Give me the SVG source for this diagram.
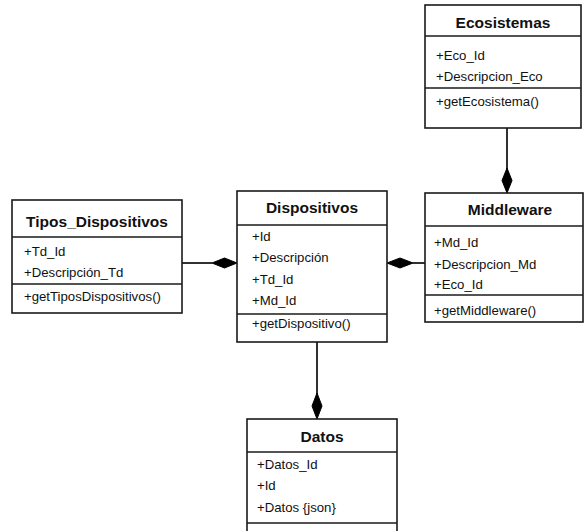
<svg xmlns="http://www.w3.org/2000/svg" width="584" height="531" viewBox="0 0 584 531">
<defs>
<style>
.box{fill:#fff;stroke:#1a1a1a;stroke-width:1.6}
.sep{stroke:#1a1a1a;stroke-width:1.6}
.title{font-family:"Liberation Sans",Arial,sans-serif;font-weight:bold;font-size:15.5px;fill:#111;text-anchor:middle}
.attr{font-family:"Liberation Sans",Arial,sans-serif;font-size:13.2px;fill:#111}
.conn{stroke:#1a1a1a;stroke-width:1.8;fill:none}
.dia{fill:#000;stroke:#000;stroke-width:1}
</style>
</defs>
<rect width="584" height="531" fill="#fff"/>
<g id="connectors">
<line class="conn" x1="507" y1="128" x2="507" y2="170"/>
<polygon class="dia" points="507,168 512,180.5 507,193 502,180.5"/>
<line class="conn" x1="182" y1="263" x2="212" y2="263"/>
<polygon class="dia" points="212,263 224.5,258 237,263 224.5,268"/>
<line class="conn" x1="413" y1="263" x2="425" y2="263"/>
<polygon class="dia" points="387,263 400,258 413,263 400,268"/>
<line class="conn" x1="317" y1="342" x2="317" y2="395"/>
<polygon class="dia" points="317,393 322,406 317,419 312,406"/>
</g>
<g id="ecosistemas">
<rect class="box" x="425" y="5" width="156" height="123"/>
<line class="sep" x1="425" y1="36" x2="581" y2="36"/>
<line class="sep" x1="425" y1="88" x2="581" y2="88"/>
<text class="title" x="503" y="28">Ecosistemas</text>
<text class="attr" x="436" y="60">+Eco_Id</text>
<text class="attr" x="436" y="81">+Descripcion_Eco</text>
<text class="attr" x="436" y="106">+getEcosistema()</text>
</g>
<g id="middleware">
<rect class="box" x="425" y="193" width="158" height="129"/>
<line class="sep" x1="425" y1="226" x2="583" y2="226"/>
<line class="sep" x1="425" y1="295" x2="583" y2="295"/>
<text class="title" x="510" y="215">Middleware</text>
<text class="attr" x="434" y="247">+Md_Id</text>
<text class="attr" x="434" y="269">+Descripcion_Md</text>
<text class="attr" x="434" y="289">+Eco_Id</text>
<text class="attr" x="434" y="315">+getMiddleware()</text>
</g>
<g id="dispositivos">
<rect class="box" x="237" y="191" width="150" height="151"/>
<line class="sep" x1="237" y1="225" x2="387" y2="225"/>
<line class="sep" x1="237" y1="314" x2="387" y2="314"/>
<text class="title" x="312" y="213">Dispositivos</text>
<text class="attr" x="252" y="241">+Id</text>
<text class="attr" x="252" y="262">+Descripción</text>
<text class="attr" x="252" y="284">+Td_Id</text>
<text class="attr" x="252" y="305">+Md_Id</text>
<text class="attr" x="252" y="328">+getDispositivo()</text>
</g>
<g id="tipos_dispositivos">
<rect class="box" x="12" y="200" width="170" height="113"/>
<line class="sep" x1="12" y1="237" x2="182" y2="237"/>
<line class="sep" x1="12" y1="284" x2="182" y2="284"/>
<text class="title" x="97" y="227">Tipos_Dispositivos</text>
<text class="attr" x="24" y="256">+Td_Id</text>
<text class="attr" x="24" y="277">+Descripción_Td</text>
<text class="attr" x="24" y="301">+getTiposDispositivos()</text>
</g>
<g id="datos">
<rect class="box" x="247" y="419" width="150" height="130"/>
<line class="sep" x1="247" y1="452" x2="397" y2="452"/>
<line class="sep" x1="247" y1="523" x2="397" y2="523"/>
<text class="title" x="322" y="442">Datos</text>
<text class="attr" x="257" y="469">+Datos_Id</text>
<text class="attr" x="257" y="490">+Id</text>
<text class="attr" x="257" y="512">+Datos {json}</text>
</g>
</svg>
